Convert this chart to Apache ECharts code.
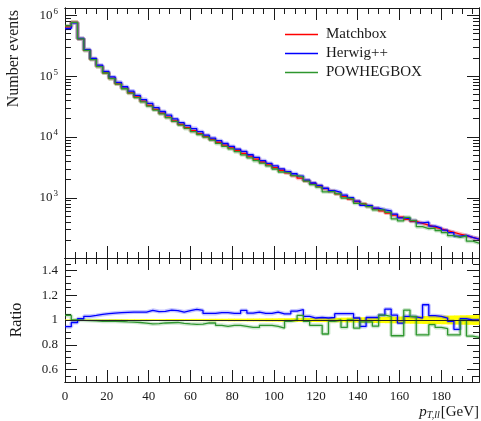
<!DOCTYPE html>
<html>
<head>
<meta charset="utf-8">
<script src="https://cdn.jsdelivr.net/npm/echarts@6/dist/echarts.min.js"></script>
<style>
  html, body { margin: 0; padding: 0; background: #fff; }
  #chart { width: 481px; height: 421px; }
</style>
</head>
<body>
<div id="chart"></div>
<script>
// pT(ll) histogram, 3 GeV bins from 0 to 198
const binWidth = 3
const xMax = 198

// Matchbox: events per bin
const matchbox = [
  647000, 767000, 412000, 266000, 189000, 145000, 114000, 92000, 75000, 63200,
  53500, 45500, 38800, 33200, 28600, 24600, 21300, 18500, 16200, 14300,
  12700, 11400, 10200, 9140, 8220, 7390, 6660, 6010, 5390, 4850,
  4350, 3890, 3500, 3150, 2850, 2580, 2330, 2110, 1910, 1730,
  1570, 1420, 1290, 1170, 1060, 960, 873, 796, 729, 668,
  614, 565, 520, 481, 445, 412, 383, 356, 332, 310,
  290, 272, 255, 239, 224, 211
]

// ratio to Matchbox
const herwigRatio = [
  0.946, 0.98, 1.01, 1.03, 1.037, 1.045, 1.051, 1.056, 1.059, 1.062,
  1.064, 1.064, 1.064, 1.078, 1.068, 1.07, 1.08, 1.075, 1.064, 1.075,
  1.086, 1.077, 1.053, 1.053, 1.06, 1.06, 1.053, 1.053, 1.077, 1.055,
  1.064, 1.053, 1.053, 1.064, 1.05, 1.05, 1.072, 1.083, 1.03, 1.016,
  1.02, 1.016, 1.02, 1.051, 1.051, 1.051, 1.016, 0.948, 1.02, 1.02,
  1.04, 1.088, 1.04, 0.975, 1.03, 1.025, 1.016, 1.123, 1.035, 1.03,
  1.016, 0.99, 0.925, 1.01, 1.0, 1.0
]
const powhegRatio = [
  1.037, 1.0, 0.997, 0.995, 0.993, 0.99, 0.99, 0.99, 0.988, 0.985,
  0.983, 0.98, 0.975, 0.968, 0.97, 0.976, 0.978, 0.98, 0.972, 0.968,
  0.965, 0.967, 0.976, 0.976, 0.957, 0.949, 0.957, 0.957, 0.949, 0.94,
  0.94, 0.957, 0.957, 0.949, 0.935, 0.989, 1.0, 1.037, 0.99, 0.957,
  0.957, 0.887, 0.99, 1.0, 0.94, 1.0, 0.935, 0.985, 0.985, 0.95,
  1.04, 1.03, 0.873, 0.873, 1.08, 1.03, 0.88, 0.88, 0.962, 0.94,
  0.93, 0.88, 0.88, 1.0, 0.87, 0.86
]

// Matchbox relative uncertainty (yellow band half width)
const matchboxRelErr = [
  0.004, 0.004, 0.004, 0.005, 0.005, 0.005, 0.005, 0.006, 0.006, 0.006,
  0.006, 0.006, 0.007, 0.007, 0.007, 0.007, 0.008, 0.008, 0.008, 0.008,
  0.009, 0.009, 0.009, 0.010, 0.010, 0.010, 0.011, 0.011, 0.011, 0.012,
  0.012, 0.012, 0.013, 0.013, 0.014, 0.014, 0.015, 0.015, 0.016, 0.016,
  0.017, 0.017, 0.018, 0.018, 0.019, 0.020, 0.021, 0.022, 0.023, 0.024,
  0.025, 0.026, 0.027, 0.028, 0.029, 0.030, 0.031, 0.032, 0.033, 0.034,
  0.035, 0.036, 0.037, 0.038, 0.039, 0.040
]

// tick positions
const xMajorTicks = [0, 20, 40, 60, 80, 100, 120, 140, 160, 180]
const xMinorTicks = [5, 10, 15, 25, 30, 35, 45, 50, 55, 65, 70, 75, 85, 90, 95,
  105, 110, 115, 125, 130, 135, 145, 150, 155, 165, 170, 175, 185, 190, 195]
const logMajorTicks = [1e3, 1e4, 1e5, 1e6]
const logMinorTicks = [
  200, 300, 400, 500, 600, 700, 800, 900,
  2000, 3000, 4000, 5000, 6000, 7000, 8000, 9000,
  20000, 30000, 40000, 50000, 60000, 70000, 80000, 90000,
  200000, 300000, 400000, 500000, 600000, 700000, 800000, 900000
]
const ratioMajorTicks = [0.6, 0.8, 1, 1.2, 1.4]
const ratioMinorTicks = [0.55, 0.65, 0.7, 0.75, 0.85, 0.9, 0.95, 1.05, 1.1, 1.15,
  1.25, 1.3, 1.35, 1.45]

const colors = { mb: '#ff0000', hw: '#0000ff', pw: '#2e962e' }
const serif = '"Liberation Serif", "DejaVu Serif", serif'
const ink = '#1a1a1a'

const herwig = matchbox.map((v, i) => v * herwigRatio[i])
const powheg = matchbox.map((v, i) => v * powhegRatio[i])

// step-histogram points: left edge of each bin, plus closing right edge
function hist(values) {
  const pts = values.map((v, i) => [i * binWidth, v])
  pts.push([values.length * binWidth, values[values.length - 1]])
  return pts
}

const tickLine = { color: ink, width: 1 }

function xAxes(grid, labels) {
  const base = {
    type: 'value', gridIndex: grid, min: 0, max: xMax,
    splitLine: { show: false },
    axisLine: { show: true, onZero: false, lineStyle: { color: ink, width: 1 } },
  }
  const out = []
  ;['bottom', 'top'].forEach((pos) => {
    out.push({
      ...base, position: pos,
      axisTick: { inside: true, length: 12, customValues: xMajorTicks, lineStyle: tickLine },
      axisLabel: {
        show: labels && pos === 'bottom', customValues: xMajorTicks, margin: 8,
        fontFamily: serif, fontSize: 13, color: ink,
      },
    })
    out.push({
      ...base, position: pos,
      axisTick: { inside: true, length: 6, customValues: xMinorTicks, lineStyle: tickLine },
      axisLabel: { show: false },
    })
  })
  return out
}

function yAxes(grid, type, min, max, major, minor, label) {
  const base = {
    type, gridIndex: grid, min, max,
    splitLine: { show: false },
    axisLine: { show: true, onZero: false, lineStyle: { color: ink, width: 1 } },
  }
  const out = []
  ;['left', 'right'].forEach((pos) => {
    out.push({
      ...base, position: pos,
      axisTick: { inside: true, length: 12, customValues: major, lineStyle: tickLine },
      axisLabel: { ...label, show: pos === 'left', customValues: major },
    })
    out.push({
      ...base, position: pos,
      axisTick: { inside: true, length: 6, customValues: minor, lineStyle: tickLine },
      axisLabel: { show: false },
    })
  })
  return out
}

const chart = echarts.init(document.getElementById('chart'), null, { renderer: 'canvas' })

const option = {
  animation: false,
  backgroundColor: '#fff',
  grid: [
    { left: 65, right: 2, top: 8, height: 250 },
    { left: 65, right: 2, top: 258, height: 124 },
  ],
  // axes 0-3: top panel x, 4-7: ratio panel x
  xAxis: [...xAxes(0, false), ...xAxes(1, true)],
  // axes 0-3: log y, 4-7: ratio y
  yAxis: [
    ...yAxes(0, 'log', 103, 1.32e6, logMajorTicks, logMinorTicks, {
      margin: 7, fontFamily: serif, fontSize: 13, color: ink,
      formatter: (v) => '{b|10}{s|' + Math.round(Math.log10(v)) + '}',
      rich: {
        b: { fontFamily: serif, fontSize: 13, color: ink },
        s: { fontFamily: serif, fontSize: 9, color: ink, padding: [0, 0, 8, 1] },
      },
    }),
    ...yAxes(1, 'value', 0.5, 1.5, ratioMajorTicks, ratioMinorTicks, {
      margin: 7, fontFamily: serif, fontSize: 13, color: ink,
    }),
  ],
  legend: {
    data: ['Matchbox', 'Herwig++', 'POWHEGBOX'],
    orient: 'vertical',
    left: 280,
    top: 22,
    icon: 'rect',
    itemWidth: 33,
    itemHeight: 1.5,
    itemGap: 4,
    textStyle: { fontFamily: serif, fontSize: 15, color: ink, lineHeight: 15, padding: [0, 0, 0, 3] },
  },
  graphic: [
    {
      type: 'text', x: 14, y: 10, rotation: Math.PI / 2,
      style: { text: 'Number events', fontFamily: serif, fontSize: 16, fill: ink, align: 'right', verticalAlign: 'middle' },
    },
    {
      type: 'text', x: 17, y: 320, rotation: Math.PI / 2,
      style: { text: 'Ratio', fontFamily: serif, fontSize: 16, fill: ink, align: 'center', verticalAlign: 'middle' },
    },
    {
      type: 'text', x: 479, y: 412,
      style: {
        text: '{p|p}{sub|T,ll}{g|[GeV]}',
        align: 'right', verticalAlign: 'middle',
        rich: {
          p: { fontFamily: serif, fontStyle: 'italic', fontSize: 15, fill: ink },
          sub: { fontFamily: serif, fontStyle: 'italic', fontSize: 10, fill: ink, padding: [6, 1, 0, 0] },
          g: { fontFamily: serif, fontSize: 15, fill: ink },
        },
      },
    },
  ],
  series: [
    // top panel: light bands then lines
    { name: 'mbBand', type: 'line', xAxisIndex: 0, yAxisIndex: 0, step: 'end', showSymbol: false, silent: true, z: 1,
      data: hist(matchbox), lineStyle: { color: colors.mb, width: 4, opacity: 0.25 } },
    { name: 'hwBand', type: 'line', xAxisIndex: 0, yAxisIndex: 0, step: 'end', showSymbol: false, silent: true, z: 1,
      data: hist(herwig), lineStyle: { color: colors.hw, width: 4, opacity: 0.25 } },
    { name: 'pwBand', type: 'line', xAxisIndex: 0, yAxisIndex: 0, step: 'end', showSymbol: false, silent: true, z: 1,
      data: hist(powheg), lineStyle: { color: colors.pw, width: 4, opacity: 0.25 } },
    { name: 'Matchbox', type: 'line', xAxisIndex: 0, yAxisIndex: 0, step: 'end', showSymbol: false, z: 3,
      color: colors.mb, data: hist(matchbox), lineStyle: { color: colors.mb, width: 1.3 } },
    { name: 'Herwig++', type: 'line', xAxisIndex: 0, yAxisIndex: 0, step: 'end', showSymbol: false, z: 3,
      color: colors.hw, data: hist(herwig), lineStyle: { color: colors.hw, width: 1.3 } },
    { name: 'POWHEGBOX', type: 'line', xAxisIndex: 0, yAxisIndex: 0, step: 'end', showSymbol: false, z: 3,
      color: colors.pw, data: hist(powheg), lineStyle: { color: colors.pw, width: 1.3 } },

    // ratio panel: Matchbox uncertainty band + reference line
    {
      name: 'mbErr', type: 'custom', xAxisIndex: 4, yAxisIndex: 4, silent: true, z: 1,
      data: matchboxRelErr.map((e, i) => [i * binWidth, (i + 1) * binWidth, 1 - e, 1 + e]),
      renderItem: (params, api) => {
        const p0 = api.coord([api.value(0), api.value(3)])
        const p1 = api.coord([api.value(1), api.value(2)])
        return {
          type: 'rect',
          shape: { x: p0[0], y: p0[1], width: p1[0] - p0[0] + 0.5, height: p1[1] - p0[1] },
          style: { fill: '#ffff00' },
        }
      },
      markLine: {
        silent: true, symbol: 'none', label: { show: false },
        lineStyle: { color: '#222', width: 1.2, type: 'solid' },
        data: [{ yAxis: 1 }],
      },
    },
    { name: 'hwRBand', type: 'line', xAxisIndex: 4, yAxisIndex: 4, step: 'end', showSymbol: false, silent: true, z: 2,
      data: hist(herwigRatio), lineStyle: { color: colors.hw, width: 4, opacity: 0.22 } },
    { name: 'pwRBand', type: 'line', xAxisIndex: 4, yAxisIndex: 4, step: 'end', showSymbol: false, silent: true, z: 2,
      data: hist(powhegRatio), lineStyle: { color: colors.pw, width: 4, opacity: 0.22 } },
    { name: 'hwRatio', type: 'line', xAxisIndex: 4, yAxisIndex: 4, step: 'end', showSymbol: false, z: 3,
      data: hist(herwigRatio), lineStyle: { color: colors.hw, width: 1.3 } },
    { name: 'pwRatio', type: 'line', xAxisIndex: 4, yAxisIndex: 4, step: 'end', showSymbol: false, z: 3,
      data: hist(powhegRatio), lineStyle: { color: colors.pw, width: 1.3 } },
  ],
}

chart.setOption(option)
</script>
</body>
</html>
